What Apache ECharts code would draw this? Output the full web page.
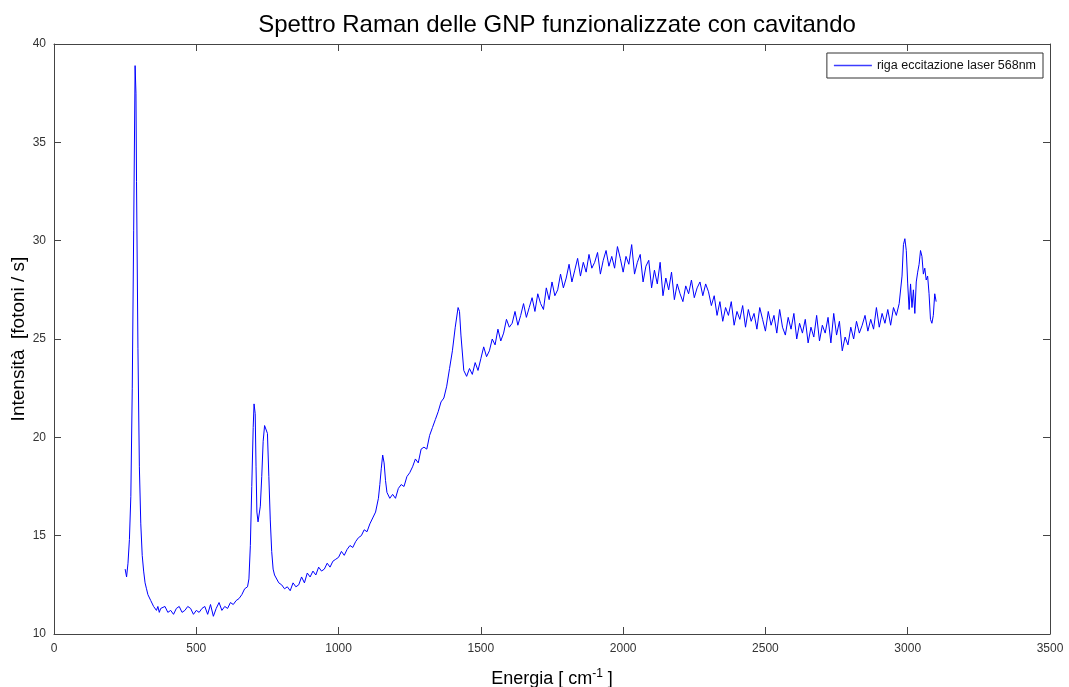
<!DOCTYPE html>
<html>
<head>
<meta charset="utf-8">
<script src="https://cdn.jsdelivr.net/npm/echarts@6/dist/echarts.min.js"></script>
<style>
  html, body { margin: 0; padding: 0; background: #fff; }
  #chart { width: 1069px; height: 687px; }
</style>
</head>
<body>
<div id="chart"></div>
<script>
// Raman spectrum: energy [cm^-1] and intensity [fotoni/s]
const energia = [
  250, 255, 260, 265, 270, 275, 280, 285, 288, 290, 295, 300, 305, 310, 315, 320, 325, 330, 335, 340,
  345, 350, 355, 360, 365, 370, 375, 380, 390, 400, 410, 420, 430, 440, 450, 460, 470, 480, 490, 500,
  510, 520, 530, 540, 550, 560, 570, 580, 590, 600, 610, 620, 630, 640, 650, 660, 670, 680, 685, 690,
  695, 700, 703, 707, 710, 713, 717, 720, 725, 730, 735, 740, 745, 750, 755, 760, 765, 770, 775, 780,
  790, 800, 810, 820, 830, 840, 850, 860, 870, 880, 890, 900, 910, 920, 930, 940, 950, 960, 970, 980,
  990, 1000, 1010, 1020, 1030, 1040, 1050, 1060, 1070, 1080, 1090, 1100, 1110, 1120, 1130, 1140, 1145, 1150, 1155, 1160,
  1165, 1170, 1180, 1190, 1200, 1210, 1220, 1230, 1240, 1250, 1260, 1270, 1280, 1290, 1300, 1310, 1320, 1330, 1340, 1350,
  1360, 1370, 1380, 1390, 1400, 1410, 1420, 1425, 1430, 1440, 1450, 1460, 1470, 1480, 1490, 1500, 1510, 1520, 1530, 1540,
  1550, 1560, 1570, 1580, 1590, 1600, 1610, 1620, 1630, 1640, 1650, 1660, 1670, 1680, 1690, 1700, 1710, 1720, 1730, 1740,
  1750, 1760, 1770, 1780, 1790, 1800, 1810, 1820, 1830, 1840, 1850, 1860, 1870, 1880, 1890, 1900, 1910, 1920, 1930, 1940,
  1950, 1960, 1970, 1980, 1990, 2000, 2010, 2020, 2030, 2040, 2050, 2060, 2070, 2080, 2090, 2100, 2110, 2120, 2130, 2140,
  2150, 2160, 2170, 2180, 2190, 2200, 2210, 2220, 2230, 2240, 2250, 2260, 2270, 2280, 2290, 2300, 2310, 2320, 2330, 2340,
  2350, 2360, 2370, 2380, 2390, 2400, 2410, 2420, 2430, 2440, 2450, 2460, 2470, 2480, 2490, 2500, 2510, 2520, 2530, 2540,
  2550, 2560, 2570, 2580, 2590, 2600, 2610, 2620, 2630, 2640, 2650, 2660, 2670, 2680, 2690, 2700, 2710, 2720, 2730, 2740,
  2750, 2760, 2770, 2780, 2790, 2800, 2810, 2820, 2830, 2840, 2850, 2860, 2870, 2880, 2890, 2900, 2910, 2920, 2930, 2940,
  2950, 2960, 2970, 2980, 2985, 2990, 2995, 3000, 3005, 3010, 3015, 3020, 3025, 3030, 3035, 3040, 3045, 3050, 3055, 3060,
  3065, 3070, 3075, 3080, 3085, 3090, 3095, 3100
];
const intensita = [
  13.3, 12.9, 13.6, 14.8, 17.0, 22.5, 30.5, 38.9, 37.5, 33.0, 24.5, 18.5, 15.6, 14.0, 13.2, 12.6, 12.3, 12.0, 11.9, 11.7,
  11.6, 11.4, 11.5, 11.2, 11.4, 11.1, 11.3, 11.2, 11.4, 11.1, 11.2, 11.0, 11.3, 11.4, 11.1, 11.2, 11.4, 11.3, 11.0, 11.2,
  11.1, 11.3, 11.4, 11.0, 11.5, 10.9, 11.3, 11.6, 11.2, 11.4, 11.3, 11.6, 11.5, 11.7, 11.8, 12.0, 12.3, 12.4, 12.8, 14.5,
  17.5, 20.5, 21.7, 21.2, 18.5, 16.2, 15.7, 15.8, 16.5, 18.0, 19.8, 20.6, 20.7, 20.2, 18.0, 15.8, 14.2, 13.3, 13.0, 12.9,
  12.6, 12.5, 12.3, 12.4, 12.2, 12.6, 12.4, 12.5, 12.9, 12.6, 13.1, 12.9, 13.2, 13.0, 13.4, 13.2, 13.3, 13.6, 13.4, 13.7,
  13.8, 13.9, 14.2, 14.0, 14.3, 14.5, 14.4, 14.7, 14.9, 15.0, 15.3, 15.2, 15.6, 15.9, 16.2, 16.9, 17.6, 18.4, 19.1, 18.7,
  17.8, 17.2, 16.9, 17.1, 16.9, 17.4, 17.6, 17.5, 18.0, 18.2, 18.5, 18.9, 18.7, 19.4, 19.5, 19.4, 20.1, 20.5, 20.9, 21.3,
  21.8, 22.0, 22.6, 23.5, 24.4, 25.6, 26.6, 26.4, 25.2, 23.4, 23.1, 23.5, 23.2, 23.8, 23.4, 24.0, 24.6, 24.1, 24.4, 25.0,
  24.7, 25.5, 24.9, 25.3, 26.0, 25.6, 25.8, 26.4, 25.7, 26.2, 26.8, 26.1, 26.6, 27.1, 26.4, 27.3, 26.8, 26.5, 27.6, 27.0,
  27.9, 27.2, 27.5, 28.3, 27.6, 28.1, 28.8, 27.9, 28.5, 29.1, 28.2, 28.9, 28.4, 29.3, 28.6, 28.9, 29.4, 28.3, 29.0, 29.5,
  28.7, 29.2, 28.6, 29.7, 29.1, 28.4, 29.2, 28.8, 29.8, 28.3, 28.9, 29.3, 27.9, 28.7, 29.0, 27.6, 28.5, 27.8, 28.9, 27.2,
  28.1, 27.5, 28.4, 27.0, 27.8, 27.3, 26.9, 27.7, 27.3, 28.0, 27.1, 27.6, 27.9, 27.2, 27.8, 27.4, 26.7, 27.2, 26.2, 26.9,
  25.9, 26.6, 26.2, 26.9, 25.7, 26.4, 26.0, 26.7, 25.6, 26.5, 25.9, 26.3, 25.5, 26.6, 26.0, 25.4, 26.4, 25.7, 26.2, 25.3,
  26.5, 25.6, 25.2, 26.1, 25.5, 26.3, 25.0, 25.8, 25.3, 26.0, 24.8, 25.6, 25.1, 26.2, 24.9, 25.7, 25.3, 26.1, 24.8, 26.3,
  25.2, 25.9, 24.4, 25.1, 24.7, 25.6, 25.0, 25.9, 25.3, 25.7, 26.2, 25.4, 26.0, 25.5, 26.6, 25.6, 26.3, 25.8, 26.5, 25.7,
  26.6, 26.2, 26.8, 28.2, 29.8, 30.1, 29.5, 27.8, 26.5, 27.8, 26.6, 27.5, 26.3, 27.9, 28.4, 28.8, 29.5, 29.2, 28.3, 28.6,
  28.0, 28.2, 27.3, 26.0, 25.8, 26.2, 27.3, 26.9
];

const seriesName = 'riga eccitazione laser 568nm';

const font = 'Liberation Sans, Arial, Helvetica, sans-serif';
const axisColor = '#444';

const chart = echarts.init(document.getElementById('chart'), null, { renderer: 'canvas' });

// matlab-style box: all four sides drawn, ticks pointing in
const boxAxis = (extra) => Object.assign({
  type: 'value',
  axisLine: { show: true, onZero: false, lineStyle: { color: axisColor, width: 1 } },
  axisTick: { show: true, inside: true, length: 7, lineStyle: { color: axisColor } },
  splitLine: { show: false },
  axisLabel: { show: false }
}, extra);

chart.setOption({
  backgroundColor: '#fff',
  animation: false,
  title: {
    text: 'Spettro Raman delle GNP funzionalizzate con cavitando',
    left: 552, top: 8, textAlign: 'center',
    textStyle: { fontFamily: font, fontSize: 24, fontWeight: 'normal', color: '#000' }
  },
  legend: {
    right: 26, top: 53,
    backgroundColor: '#fff',
    borderColor: '#333', borderWidth: 1, borderRadius: 0,
    padding: [6, 7, 6, 7],
    icon: 'rect', itemWidth: 38, itemHeight: 1.5, itemGap: 4,
    itemStyle: { color: '#3c3cff', borderWidth: 0 },
    textStyle: { fontFamily: font, fontSize: 12.5, color: '#111' },
    data: [seriesName]
  },
  grid: { left: 54, right: 19, top: 44, bottom: 53, containLabel: false, outerBoundsMode: 'none' },
  xAxis: [
    boxAxis({
      min: 0, max: 3500, interval: 500, position: 'bottom',
      name: '{n|Energia [ cm}{s|-1}{n| ]}',
      nameLocation: 'middle', nameGap: 34,
      nameTextStyle: {
        rich: {
          n: { fontFamily: font, fontSize: 18, color: '#000' },
          s: { fontFamily: font, fontSize: 12, color: '#000', verticalAlign: 'top', padding: [0, 0, 10, 0] }
        }
      },
      axisLabel: {
        show: true, margin: 9, fontFamily: font, fontSize: 12, color: '#333',
        formatter: (v) => String(v)
      }
    }),
    boxAxis({ min: 0, max: 3500, interval: 500, position: 'top' })
  ],
  yAxis: [
    boxAxis({
      min: 10, max: 40, interval: 5, position: 'left',
      name: 'Intensità  [fotoni / s]',
      nameLocation: 'middle', nameGap: 26, nameMoveOverlap: false,
      nameTextStyle: { fontFamily: font, fontSize: 19, color: '#000' },
      axisLabel: {
        show: true, margin: 8, fontFamily: font, fontSize: 12, color: '#333',
        formatter: (v) => String(v)
      }
    }),
    boxAxis({ min: 10, max: 40, interval: 5, position: 'right' })
  ],
  series: [{
    name: seriesName,
    type: 'line',
    data: energia.map((e, i) => [e, intensita[i]]),
    showSymbol: false,
    symbol: 'none',
    lineStyle: { color: '#0000ff', width: 1 },
    itemStyle: { color: '#0000ff' }
  }]
});
</script>
</body>
</html>
